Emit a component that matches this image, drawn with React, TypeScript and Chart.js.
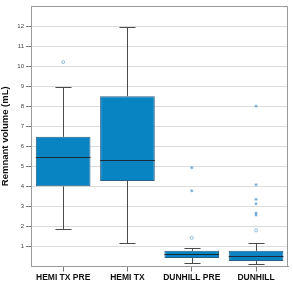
import React, { useEffect, useRef } from "react";
import { Chart, registerables } from "chart.js";

Chart.register(...registerables);

const categories = ["HEMI TX PRE", "HEMI TX", "DUNHILL PRE", "DUNHILL"];
const q1Values = [4.0, 4.27, 0.42, 0.27];
const q3Values = [6.47, 8.5, 0.78, 0.78];
const medianValues = [5.47, 5.32, 0.62, 0.53];
const whiskerLow = [1.88, 1.15, 0.15, 0.12];
const whiskerHigh = [8.95, 11.95, 0.9, 1.15];
const mildOutliers = [
  { x: "HEMI TX PRE", y: 10.2 },
  { x: "DUNHILL PRE", y: 1.43 },
  { x: "DUNHILL", y: 1.8 },
];
const extremeOutliers = [
  { x: "DUNHILL PRE", y: 4.93 },
  { x: "DUNHILL PRE", y: 3.78 },
  { x: "DUNHILL", y: 8.0 },
  { x: "DUNHILL", y: 4.08 },
  { x: "DUNHILL", y: 3.35 },
  { x: "DUNHILL", y: 3.13 },
  { x: "DUNHILL", y: 2.67 },
  { x: "DUNHILL", y: 2.57 },
];
const yTickValues = [1, 2, 3, 4, 5, 6, 7, 8, 9, 10, 11, 12];

const whiskerPlugin = {
  id: "whiskers",
  beforeDatasetsDraw(chart: any) {
    const { ctx, scales } = chart;
    const x = scales.x;
    const y = scales.y;
    const catW = x.width / categories.length;
    const capHalf = catW * 0.125;
    ctx.save();
    ctx.strokeStyle = "#4a4a4a";
    ctx.lineWidth = 1;
    categories.forEach((c, i) => {
      const cx = Math.round(x.getPixelForValue(i)) + 0.5;
      const lo = Math.round(y.getPixelForValue(whiskerLow[i])) + 0.5;
      const hi = Math.round(y.getPixelForValue(whiskerHigh[i])) + 0.5;
      const b1 = y.getPixelForValue(q1Values[i]);
      const b3 = y.getPixelForValue(q3Values[i]);
      ctx.beginPath();
      ctx.moveTo(cx, hi);
      ctx.lineTo(cx, b3);
      ctx.moveTo(cx, b1);
      ctx.lineTo(cx, lo);
      ctx.moveTo(cx - capHalf, hi);
      ctx.lineTo(cx + capHalf, hi);
      ctx.moveTo(cx - capHalf, lo);
      ctx.lineTo(cx + capHalf, lo);
      ctx.stroke();
    });
    ctx.restore();
  },
  afterDatasetsDraw(chart: any) {
    const { ctx, scales } = chart;
    const y = scales.y;
    const meta = chart.getDatasetMeta(0);
    ctx.save();
    ctx.strokeStyle = "#1a2a38";
    ctx.lineWidth = 1;
    meta.data.forEach((bar: any, i: number) => {
      const half = bar.width / 2;
      const my = Math.round(y.getPixelForValue(medianValues[i])) + 0.5;
      ctx.beginPath();
      ctx.moveTo(bar.x - half, my);
      ctx.lineTo(bar.x + half, my);
      ctx.stroke();
    });
    const a = chart.chartArea;
    ctx.strokeStyle = "#9a9a9a";
    ctx.beginPath();
    ctx.moveTo(Math.round(a.left) + 0.5, Math.round(a.top) + 0.5);
    ctx.lineTo(Math.round(a.right) - 0.5, Math.round(a.top) + 0.5);
    ctx.lineTo(Math.round(a.right) - 0.5, Math.round(a.bottom));
    ctx.stroke();
    ctx.restore();
  },
};

export default function App() {
  const ref = useRef<HTMLCanvasElement | null>(null);
  useEffect(() => {
    if (!ref.current) return;
    const chart = new Chart(ref.current, {
      type: "bar",
      data: {
        labels: categories,
        datasets: [
          {
            type: "bar",
            data: categories.map((_, i) => [q1Values[i], q3Values[i]]) as any,
            backgroundColor: "#0884c2",
            borderColor: "#2a5f86",
            borderWidth: 1,
            borderSkipped: false,
            barPercentage: 0.85,
            categoryPercentage: 1,
            order: 2,
          },
          {
            type: "scatter",
            data: mildOutliers as any,
            pointStyle: "circle",
            radius: 1.5,
            borderWidth: 0.8,
            borderColor: "#7aaed8",
            backgroundColor: "rgba(255,255,255,0)",
            order: 1,
          } as any,
          {
            type: "scatter",
            data: extremeOutliers as any,
            pointStyle: "star",
            radius: 1.5,
            borderWidth: 0.8,
            borderColor: "#6aa6d6",
            backgroundColor: "#6aa6d6",
            order: 1,
          } as any,
        ],
      },
      options: {
        animation: false,
        responsive: false,
        maintainAspectRatio: false,
        layout: { padding: { top: 6, right: 4, left: 0, bottom: 0 } },
        plugins: {
          legend: { display: false },
          tooltip: { enabled: false },
        },
        scales: {
          x: {
            type: "category",
            offset: true,
            grid: {
              display: true,
              drawOnChartArea: false,
              drawTicks: true,
              tickLength: 5,
              offset: false,
              tickColor: "#777777",
            },
            border: { color: "#9a9a9a", width: 1 },
            ticks: {
              color: "#111111",
              padding: 1,
              font: { family: "Liberation Sans", size: 8.5, weight: "bold" },
              maxRotation: 0,
              autoSkip: false,
            },
            afterFit(scale: any) {
              scale.height = 19.5;
            },
          },
          y: {
            min: 0,
            max: 13,
            afterBuildTicks(scale: any) {
              scale.ticks = [0, ...yTickValues, 13].map((v) => ({ value: v }));
            },
            ticks: {
              stepSize: 1,
              color: "#444444",
              padding: 2,
              font: { family: "Liberation Sans", size: 6 },
              callback: (v: any) => (yTickValues.includes(Number(v)) ? String(v) : ""),
            },
            grid: {
              color: "#dcdcdc",
              tickLength: 5,
              tickColor: (ctx: any) =>
                ctx.tick && yTickValues.includes(ctx.tick.value) ? "#777777" : "rgba(0,0,0,0)",
            },
            border: { color: "#9a9a9a", width: 1 },
            title: {
              display: true,
              text: "Remnant volume (mL)",
              color: "#111111",
              padding: 0,
              font: { family: "Liberation Sans", size: 9.5, weight: "bold" },
            },
            afterFit(scale: any) {
              scale.width = 31;
            },
          },
        },
      },
      plugins: [whiskerPlugin],
    } as any);
    return () => chart.destroy();
  }, []);
  return (
    <div style={{ position: "fixed", left: 0, top: 0, width: 293, height: 286, background: "#ffffff" }}>
      <canvas ref={ref} width={293} height={286} style={{ display: "block" }} />
    </div>
  );
}
